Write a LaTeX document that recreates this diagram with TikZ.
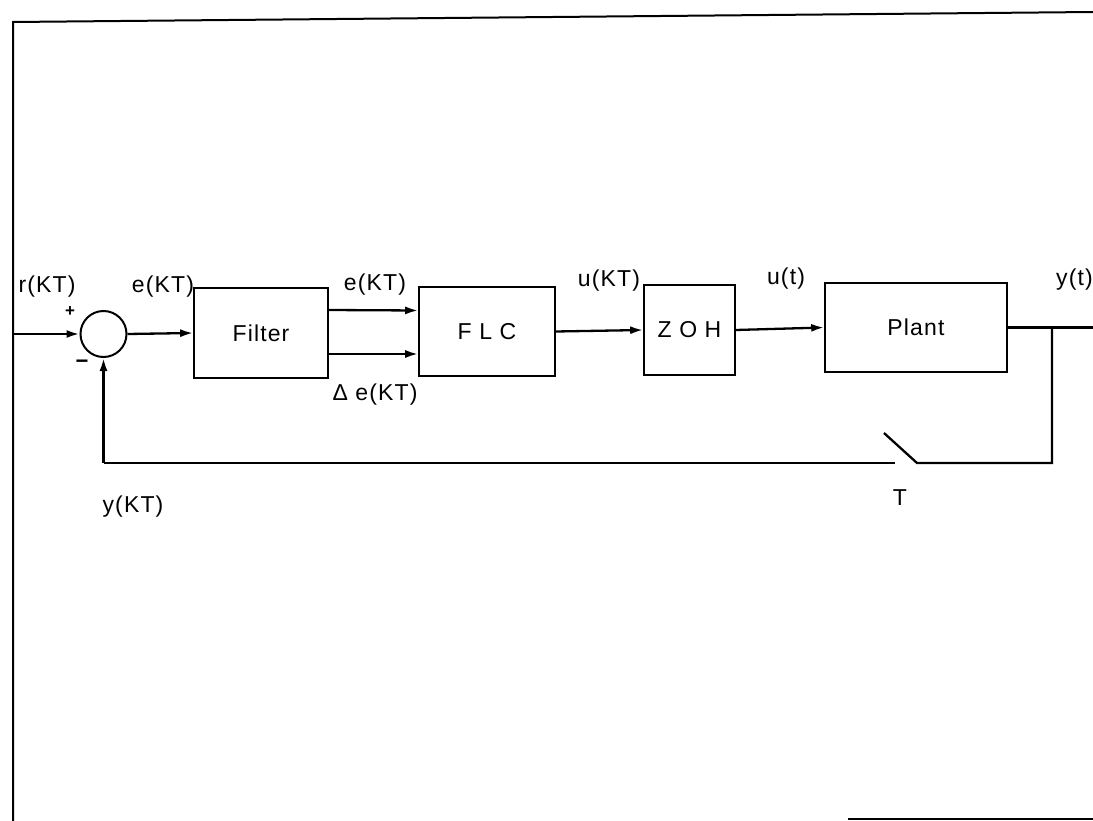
\documentclass[tikz,border=0pt]{standalone}
\usepackage{fontspec}
\setmainfont{Liberation Sans}[LetterSpace=5]
\usetikzlibrary{arrows.meta}

\tikzset{
	block/.style={draw, line width=1.6pt, inner sep=0pt, font=\fontsize{23}{23}\selectfont},
	sig/.style={line width=2.3pt, -{Latex[length=13pt,width=8pt]}},
	wire/.style={line width=2.3pt},
	lbl/.style={font=\fontsize{23}{23}\selectfont, inner sep=0pt}
}

\begin{document}
\begin{tikzpicture}[x=1pt, y=-1pt]
	\useasboundingbox (0,0) rectangle (1093,821);
	% page frame of the scan
	\draw[line width=2pt] (13,821) -- (13,22) -- (1093,12);
	\draw[line width=2pt] (848,819) -- (1093,819);
	% blocks
	\node[draw, circle, line width=2pt, minimum size=46pt, inner sep=0pt] (sum) at (103.5,334) {};
	\node[block, minimum width=134pt, minimum height=90pt] (filter) at (261,333) {Filter};
	\node[block, minimum width=136pt, minimum height=89pt] (flc) at (487,331.5) {F L C};
	\node[block, minimum width=91pt, minimum height=90pt] (zoh) at (689.5,330) {Z O H};
	\node[block, minimum width=182pt, minimum height=89pt] (plant) at (916,327.5) {Plant};
	% free ends and the sampler
	\coordinate (in) at (13,334);
	\coordinate (out) at (1093,327.5);
	\coordinate (tap) at (1052,327.5);
	\coordinate (tapdn) at (1052,463);
	\coordinate (swR) at (917,463);
	\coordinate (swL) at (895,463);
	\coordinate (blade) at (884,433);
	\coordinate (fbk) at (103.5,463);
	% forward path
	\draw[sig] (in) -- (sum.west);
	\draw[sig] (sum.east) -- (filter.west);
	\draw[sig] ([yshift=23pt]filter.east) -- ([yshift=21pt]flc.west);
	\draw[sig] ([yshift=-21pt]filter.east) -- ([yshift=-22.5pt]flc.west);
	\draw[sig] (flc.east) -- (zoh.west);
	\draw[sig] (zoh.east) -- (plant.west);
	\draw[wire] (plant.east) -- (out);
	% feedback through the sampler
	\draw[wire] (tap) -- (tapdn) -- (swR) -- (blade);
	\draw[wire] (swL) -- (fbk);
	\draw[sig] (fbk) -- (sum.south);
	% labels
	\node[lbl] (r) at (47,287) {r(KT)};
	\node[lbl] (e) at (163,287) {e(KT)};
	\node[lbl, font=\bfseries\fontsize{17}{17}\selectfont] (plus) at (70,312) {+};
	\node[lbl, font=\bfseries\fontsize{22}{22}\selectfont] (minus) at (82,364) {−};
	\node[lbl] (e1) at (375,285) {e(KT)};
	\node[lbl] (de) at (375,395) {Δ e(KT)};
	\node[lbl] (u) at (609,281) {u(KT)};
	\node[lbl] (ut) at (786,279) {u(t)};
	\node[lbl, anchor=west] (yt) at (1056,280) {y(t)};
	\node[lbl] (yk) at (133,507) {y(KT)};
	\node[lbl] (T) at (900,498) {T};
\end{tikzpicture}
\end{document}
